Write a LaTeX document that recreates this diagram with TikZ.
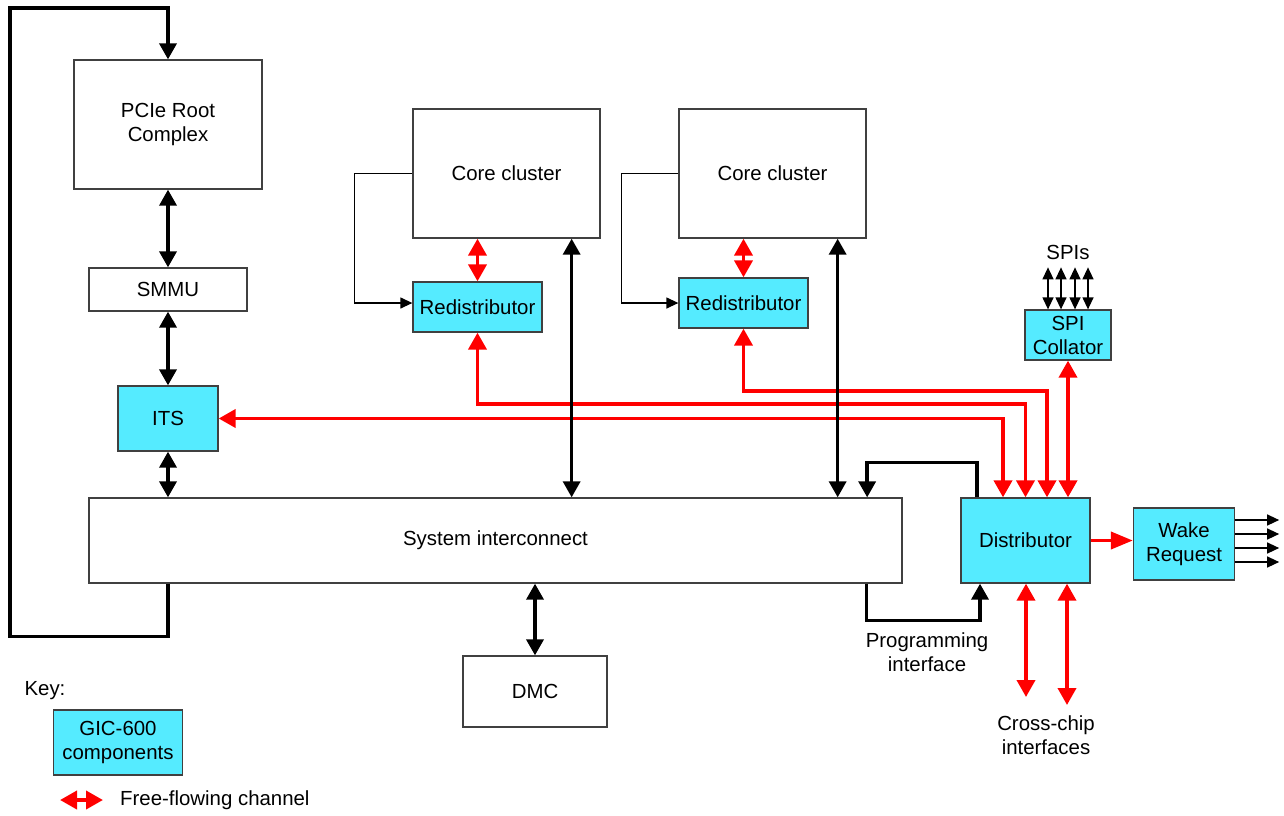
\documentclass[tikz,border=0pt]{standalone}
\usepackage{fontspec}
\setmainfont{Liberation Sans}
\usetikzlibrary{arrows.meta,calc}
\definecolor{gicfill}{HTML}{55EBFF}
\definecolor{boxline}{HTML}{404040}
\definecolor{redc}{HTML}{FF0000}
\newcommand\fsz{\fontsize{20.4}{24}\selectfont}
\tikzset{
  blktip/.tip={Triangle[width=17pt,length=16pt]},
  redtip/.tip={Triangle[width=18pt,length=17pt]},
  wktip/.tip={Triangle[width=17pt,length=22pt]},
  smltip/.tip={Triangle[width=11pt,length=12pt]},
  box/.style={draw=boxline, line width=1.3pt, fill=white, inner sep=0pt, align=center, font=\fsz},
  gic/.style={box, fill=gicfill},
  thk/.style={line width=3.5pt, black},
  redl/.style={line width=3.8pt, redc},
  thin1/.style={line width=1.3pt, black},
  lbl/.style={font=\fsz, align=center, inner sep=0pt},
}
\begin{document}
\begin{tikzpicture}[x=1pt,y=-1pt]
\useasboundingbox (0,0) rectangle (1284,815);
% boxes
\node[box, minimum width=188pt, minimum height=129pt] (pcie) at (168,124.5) {PCIe Root\\Complex};
\node[box, minimum width=158pt, minimum height=43pt] (smmu) at (168,289.5) {SMMU};
\node[gic, minimum width=100pt, minimum height=65pt] (its) at (168,418.5) {ITS};
\node[box, minimum width=813pt, minimum height=85pt] (sys) at (495.5,540.5) {System interconnect};
\node[box, minimum width=144pt, minimum height=71pt] (dmc) at (535,691.5) {DMC};
\node[box, minimum width=187pt, minimum height=129pt] (core1) at (506.5,173.5) {Core cluster};
\node[gic, minimum width=129pt, minimum height=50pt] (red1) at (477.5,307) {Redistributor};
\node[box, minimum width=187pt, minimum height=129pt] (core2) at (772.5,173.5) {Core cluster};
\node[gic, minimum width=129pt, minimum height=50pt] (red2) at (743.5,303) {Redistributor};
\node[gic, minimum width=86pt, minimum height=50pt] (spi) at (1068,335) {SPI\\Collator};
\node[gic, minimum width=129pt, minimum height=85pt] (dist) at (1025.5,540.5) {Distributor};
\node[gic, minimum width=101pt, minimum height=72pt] (wake) at (1184,544) {Wake\\Request};
\node[gic, minimum width=129pt, minimum height=65pt] (key) at (118,742.5) {GIC-600\\components};
% labels
\node[lbl] (spis) at (1068,252) {SPIs};
\node[lbl] (prog) at (927,652) {Programming\\interface};
\node[lbl] (cross) at (1046,735) {Cross-chip\\interfaces};
\node[lbl] (keyl) at (45,691) {Key:};
\node[lbl, anchor=west] (ffl) at (120,800) {Free-flowing channel};
% red channels
\draw[redl, redtip-redtip] (red1.north) -- (red1.north |- core1.south);
\draw[redl, redtip-redtip] (red2.north) -- (red2.north |- core2.south);
\draw[redl, redtip-redtip] (its.east) -| ([xshift=-22.5pt]dist.north);
\draw[redl, redtip-redtip] (red1.south) -- ++(0,71) -| (dist.north);
\draw[redl, redtip-redtip] (red2.south) -- ++(0,62) -| ([xshift=21.5pt]dist.north);
\draw[redl, redtip-redtip] (spi.south) -- (spi.south |- dist.north);
\draw[redl, -wktip] (dist.east) -- (dist.east -| wake.west);
\coordinate (cc1) at (1026,697);
\coordinate (cc2) at (1067,705);
\draw[redl, redtip-redtip] (dist.south -| cc1) -- (cc1);
\draw[redl, redtip-redtip] (dist.south -| cc2) -- (cc2);
\coordinate (ka) at (60,800);
\coordinate (kb) at (103,800);
\draw[redl, redtip-redtip] (ka) -- (kb);
% black thick
\draw[thk, blktip-blktip] (pcie.south) -- (smmu.north);
\draw[thk, blktip-blktip] (smmu.south) -- (its.north);
\draw[thk, blktip-blktip] (its.south) -- (its.south |- sys.north);
\draw[thk, -blktip] (sys.south -| pcie.south) -- ++(0,53) -| (10,8) -| (pcie.north);
\draw[thk, blktip-blktip] (dmc.north) -- (dmc.north |- sys.south);
\draw[thk, blktip-blktip] ([xshift=-29pt]core1.south east) -- ([xshift=-29pt]core1.south east |- sys.north);
\draw[thk, blktip-blktip] ([xshift=-29pt]core2.south east) -- ([xshift=-29pt]core2.south east |- sys.north);
\draw[thk, -blktip] ([xshift=-36pt]sys.south east) -- ++(0,37) -| ([xshift=-45.5pt]dist.south);
\draw[thk, -blktip] ([xshift=-48.5pt]dist.north) -- ++(0,-35) -| ([xshift=-35.5pt]sys.north east);
% thin
\draw[thin1, -smltip] (core1.west) -- ++(-58,0) |- ([yshift=4pt]red1.west);
\draw[thin1, -smltip] (core2.west) -- ++(-57,0) |- (red2.west);
\foreach \dx in {-20,-7,7,20} \draw[thin1, smltip-smltip] ([xshift=\dx pt]spi.north) -- ++(0,-42);
\foreach \dy in {24,10,-4,-18} \draw[thin1, -smltip] ([yshift=\dy pt]wake.east) -- ++(44,0);
\end{tikzpicture}
\end{document}
